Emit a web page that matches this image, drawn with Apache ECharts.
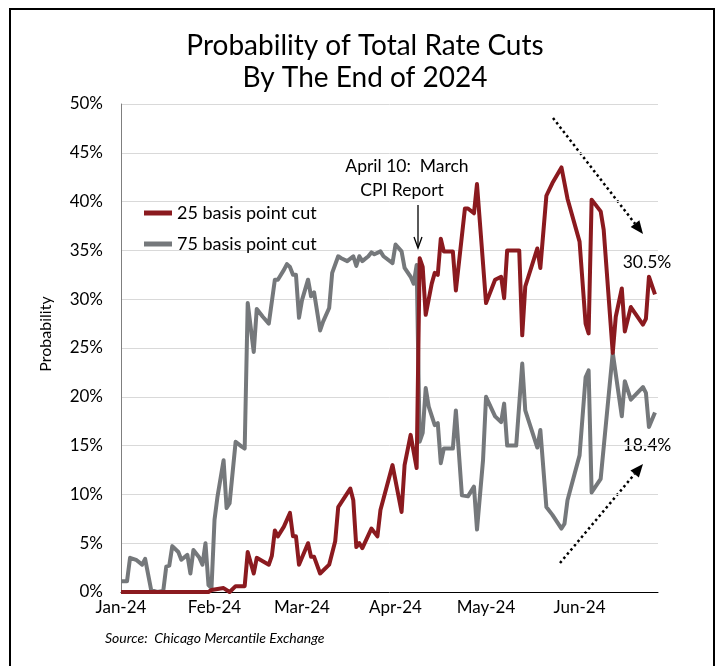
<!DOCTYPE html>
<html><head><meta charset="utf-8">
<script src="https://cdn.jsdelivr.net/npm/echarts@6/dist/echarts.min.js"></script>
<style>html,body{margin:0;padding:0;background:#fff}#c{width:719px;height:666px}</style>
</head><body><div id="c"></div>
<script>
// ---- data ----
const cut25Dates = ['2024-01-01','2024-01-30','2024-01-31','2024-02-04','2024-02-06','2024-02-08','2024-02-10','2024-02-11','2024-02-12','2024-02-14','2024-02-15','2024-02-19','2024-02-20','2024-02-21','2024-02-22','2024-02-24','2024-02-26','2024-02-27','2024-02-28','2024-02-29','2024-03-03','2024-03-04','2024-03-05','2024-03-07','2024-03-10','2024-03-12','2024-03-13','2024-03-17','2024-03-18','2024-03-19','2024-03-20','2024-03-21','2024-03-24','2024-03-26','2024-03-27','2024-03-31','2024-04-03','2024-04-04','2024-04-06','2024-04-08','2024-04-09','2024-04-10','2024-04-11','2024-04-13','2024-04-14','2024-04-15','2024-04-16','2024-04-17','2024-04-20','2024-04-21','2024-04-24','2024-04-25','2024-04-27','2024-04-28','2024-05-01','2024-05-04','2024-05-06','2024-05-07','2024-05-08','2024-05-12','2024-05-13','2024-05-14','2024-05-18','2024-05-19','2024-05-21','2024-05-23','2024-05-26','2024-05-28','2024-06-01','2024-06-03','2024-06-04','2024-06-05','2024-06-08','2024-06-09','2024-06-12','2024-06-13','2024-06-15','2024-06-16','2024-06-18','2024-06-22','2024-06-23','2024-06-24','2024-06-26'];
const cut25Values = [0,0,0.2,0.4,0.0,0.6,0.6,0.6,4.1,1.9,3.5,2.8,3.7,6.3,5.7,6.7,8.1,5.7,5.7,2.8,5.0,3.6,3.6,1.9,2.8,5.2,8.7,10.6,9.4,4.6,5.0,4.5,6.5,5.7,8.4,13.0,8.2,13.0,16.1,12.7,34.2,33.3,28.4,31.6,32.7,32.5,36.2,34.9,34.9,30.9,39.3,39.3,38.8,41.8,29.6,32.0,32.3,30.1,35.0,35.0,26.3,31.3,35.2,33.2,40.6,41.9,43.5,40.3,35.9,27.5,26.5,40.2,39.0,37.1,24.5,28.2,31.1,26.7,29.2,27.4,28.0,32.3,30.5];

const cut75Dates = ['2024-01-01','2024-01-03','2024-01-04','2024-01-06','2024-01-08','2024-01-09','2024-01-11','2024-01-13','2024-01-15','2024-01-16','2024-01-17','2024-01-18','2024-01-20','2024-01-21','2024-01-23','2024-01-24','2024-01-25','2024-01-27','2024-01-28','2024-01-29','2024-01-30','2024-01-31','2024-02-01','2024-02-02','2024-02-04','2024-02-05','2024-02-06','2024-02-08','2024-02-10','2024-02-11','2024-02-12','2024-02-14','2024-02-15','2024-02-17','2024-02-19','2024-02-21','2024-02-22','2024-02-24','2024-02-25','2024-02-26','2024-02-27','2024-02-28','2024-02-29','2024-03-01','2024-03-03','2024-03-04','2024-03-05','2024-03-07','2024-03-08','2024-03-10','2024-03-11','2024-03-13','2024-03-14','2024-03-16','2024-03-18','2024-03-19','2024-03-20','2024-03-21','2024-03-23','2024-03-24','2024-03-25','2024-03-27','2024-03-28','2024-03-31','2024-04-01','2024-04-03','2024-04-04','2024-04-06','2024-04-07','2024-04-08','2024-04-09','2024-04-10','2024-04-11','2024-04-12','2024-04-14','2024-04-15','2024-04-16','2024-04-17','2024-04-20','2024-04-21','2024-04-23','2024-04-25','2024-04-27','2024-04-28','2024-04-30','2024-05-01','2024-05-04','2024-05-06','2024-05-07','2024-05-08','2024-05-11','2024-05-13','2024-05-14','2024-05-18','2024-05-19','2024-05-21','2024-05-23','2024-05-26','2024-05-27','2024-05-28','2024-06-01','2024-06-03','2024-06-04','2024-06-05','2024-06-08','2024-06-12','2024-06-15','2024-06-16','2024-06-18','2024-06-22','2024-06-23','2024-06-24','2024-06-26'];
const cut75Values = [1.1,1.1,3.5,3.3,2.8,3.4,0.2,0.0,0.1,2.6,2.7,4.7,4.1,3.3,3.8,1.9,4.3,3.5,2.8,5.0,0.7,0.4,7.4,9.8,13.5,8.6,9.1,15.4,14.9,14.7,29.6,24.6,29.0,28.2,27.5,32.0,32.0,33.0,33.6,33.3,32.5,32.5,28.1,29.9,32.0,30.3,30.7,26.8,27.7,29.1,32.7,34.4,34.2,33.9,34.4,33.4,34.4,33.9,34.4,34.8,34.6,34.9,34.4,33.7,35.6,34.9,33.2,32.3,31.6,33.5,15.4,16.3,20.9,19.0,17.1,17.3,13.2,14.7,14.7,18.6,9.9,9.8,10.8,6.4,13.5,20.0,18.0,17.4,19.3,15.0,15.0,23.4,18.6,14.8,16.6,8.7,7.9,6.5,7.0,9.4,14.0,22.0,22.7,10.2,11.6,24.5,18.0,21.6,19.7,21.0,20.4,16.9,18.4];

const monthTickDates = ['2024-01-01','2024-02-01','2024-03-01','2024-04-01','2024-05-01','2024-06-01'];
const monthTickLabels = ['Jan-24','Feb-24','Mar-24','Apr-24','May-24','Jun-24'];
const seriesNames = ['25 basis point cut','75 basis point cut'];

// ---- helpers ----
const t0 = Date.UTC(2024,0,1);
const dayOf = s => (Date.parse(s) - t0) / 86400000;
const tickDays = monthTickDates.map(dayOf);
const pairs = (d, v) => d.map((s, i) => [dayOf(s), v[i]]);

const FONT = 'Lato, "Open Sans", sans-serif';
const RED = '#8B1A1F', GREY = '#75787B';

const chart = echarts.init(document.getElementById('c'), null, {renderer: 'canvas'});

function dottedArrow(x1, y1, x2, y2) {
  const dx = x2 - x1, dy = y2 - y1, L = Math.hypot(dx, dy);
  const ux = dx / L, uy = dy / L, hl = 13, hw = 5.5;
  const bx = x2 - ux * hl, by = y2 - uy * hl;
  return [
    {type: 'line', shape: {x1, y1, x2: bx, y2: by}, style: {stroke: '#000', lineWidth: 2.5, lineDash: [2.5, 3]}},
    {type: 'polygon', shape: {points: [[x2, y2], [bx - uy * hw, by + ux * hw], [bx + uy * hw, by - ux * hw]]}, style: {fill: '#000'}}
  ];
}

const option = {
  animation: false,
  backgroundColor: '#fff',
  grid: {left: 121, top: 104, width: 537, height: 488, containLabel: false},
  legend: {
    data: seriesNames, orient: 'vertical', left: 139, top: 199, itemWidth: 28, itemHeight: 5, icon: 'rect', itemGap: 13,
    textStyle: {fontFamily: FONT, fontSize: 18, color: '#000'}
  },
  xAxis: {
    type: 'value', min: 0, max: 178,
    axisLine: {show: true, lineStyle: {color: '#000', width: 1}},
    axisTick: {show: false},
    splitLine: {show: false},
    axisLabel: {
      customValues: tickDays, margin: 7, color: '#000', fontFamily: FONT, fontSize: 17,
      formatter: v => monthTickLabels[tickDays.indexOf(v)]
    }
  },
  yAxis: {
    type: 'value', min: 0, max: 50, interval: 5,
    axisLine: {show: true, lineStyle: {color: '#7f7f7f', width: 1}},
    axisTick: {show: false},
    splitLine: {show: true, lineStyle: {color: '#d9d9d9', width: 1}},
    axisLabel: {formatter: '{value}%', margin: 18, color: '#000', fontFamily: FONT, fontSize: 17}
  },
  series: [
    {name: seriesNames[1], type: 'line', data: pairs(cut75Dates, cut75Values), showSymbol: false, symbol: 'none',
     lineStyle: {color: GREY, width: 4, join: 'round'}, itemStyle: {color: GREY}, z: 2},
    {name: seriesNames[0], type: 'line', data: pairs(cut25Dates, cut25Values), showSymbol: false, symbol: 'none',
     lineStyle: {color: RED, width: 4, join: 'round'}, itemStyle: {color: RED}, z: 3}
  ],
  graphic: [
    {type: 'rect', shape: {x: 10, y: 9, width: 704, height: 680}, style: {fill: 'none', stroke: '#000', lineWidth: 2}, silent: true},
    {type: 'text', x: 365, y: 46, style: {text: 'Probability of Total Rate Cuts', fill: '#000', font: '28px ' + FONT, textAlign: 'center', textVerticalAlign: 'middle'}},
    {type: 'text', x: 365, y: 78, style: {text: 'By The End of 2024', fill: '#000', font: '28px ' + FONT, textAlign: 'center', textVerticalAlign: 'middle'}},
    {type: 'text', x: 46, y: 334, rotation: Math.PI / 2, style: {text: 'Probability', fill: '#000', font: '16px ' + FONT, textAlign: 'center', textVerticalAlign: 'middle'}},
    {type: 'text', x: 407, y: 166, style: {text: 'April 10:  March', fill: '#000', font: '17.5px ' + FONT, textAlign: 'center', textVerticalAlign: 'middle'}},
    {type: 'text', x: 402, y: 190, style: {text: 'CPI Report', fill: '#000', font: '17.5px ' + FONT, textAlign: 'center', textVerticalAlign: 'middle'}},
    {type: 'line', shape: {x1: 418, y1: 205, x2: 418, y2: 247}, style: {stroke: '#000', lineWidth: 1.3}},
    {type: 'polyline', shape: {points: [[414, 237], [418, 248], [422, 237]]}, style: {stroke: '#000', lineWidth: 1.3, fill: 'none'}},
    {type: 'text', x: 647, y: 262, style: {text: '30.5%', fill: '#000', font: '17.5px ' + FONT, textAlign: 'center', textVerticalAlign: 'middle'}},
    {type: 'text', x: 647, y: 445, style: {text: '18.4%', fill: '#000', font: '17.5px ' + FONT, textAlign: 'center', textVerticalAlign: 'middle'}},
    {type: 'text', x: 105, y: 638, style: {text: 'Source:  Chicago Mercantile Exchange', fill: '#000', font: 'italic 14px ' + FONT, textAlign: 'left', textVerticalAlign: 'middle'}},
    ...dottedArrow(553, 118, 643, 234),
    ...dottedArrow(560, 563, 643, 464)
  ]
};
chart.setOption(option);
</script>
</body></html>
